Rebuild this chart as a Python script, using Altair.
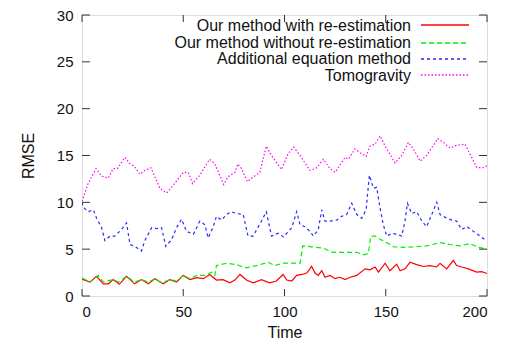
import altair as alt
import pandas as pd

series_names = ["Our method with re-estimation", "Our method without re-estimation",
                "Additional equation method", "Tomogravity"]
colors = ["#ff0000", "#00f000", "#2a2aff", "#ff00ff"]
dashes = [[], [5, 3], [3, 3], [1.5, 2]]

# Tomogravity (pink)
tomo_t = [0, 3, 6.9, 9.7, 13, 15.4, 17.5, 21.2, 23.7, 25.6, 28.6, 31, 34, 38.5, 41.8, 45, 50, 52.5,
          54.6, 58.2, 63, 65.6, 68, 70, 72, 75.5, 77, 78.8, 81.7, 84.5, 87.8, 91, 93.6, 98.5, 101.8,
          104.5, 107.7, 112.6, 116, 119.2, 122.5, 125, 129.9, 131.5, 134.8, 137.3, 140.3, 142.2,
          144.7, 147.2, 149.7, 154.6, 157.9, 161.2, 163.6, 167, 170.2, 175.7, 178.5, 181.8, 185,
          189.2, 192.4, 195, 198.2, 200]
tomo_v = [10.1, 12.0, 13.6, 12.8, 12.6, 13.6, 13.6, 14.8, 14.1, 13.9, 13.0, 13.4, 13.7, 11.5, 11.0,
          11.8, 13.2, 13.2, 12.0, 12.9, 14.6, 14.1, 12.9, 11.9, 12.7, 13.2, 14.1, 13.6, 12.2, 12.7,
          13.2, 16.0, 15.0, 13.5, 15.2, 15.9, 15.0, 13.4, 13.7, 14.6, 13.6, 13.2, 14.8, 14.6, 15.7,
          15.3, 14.9, 16.0, 16.2, 17.1, 16.0, 14.2, 15.0, 16.4, 15.7, 14.4, 15.0, 16.8, 16.4, 15.8,
          16.1, 16.2, 14.8, 13.7, 13.7, 13.9]

# Additional equation method (blue)
add_t = [0, 0.6, 3, 5.6, 7.2, 9.7, 11.3, 13.8, 16.3, 19.5, 22, 23.7, 26, 29.4, 31, 34.4, 36.8, 39.3,
         41.4, 44.2, 46.7, 49.2, 51.6, 55, 58.2, 60.7, 62.3, 64.8, 66.4, 68.9, 71.4, 73.8, 76.3,
         79.6, 82, 84.5, 88.6, 91, 93.6, 96.9, 99.5, 101.1, 103.6, 106, 107.7, 110.1, 112.6, 114.3,
         116.7, 118.4, 120, 122.5, 125.8, 128.2, 130.7, 133.2, 135.7, 138.1, 140.3, 141.9, 143.9,
         145.5, 147.2, 148.8, 150.5, 153, 155.4, 157.9, 159.5, 160.7, 162.8, 165.3, 167.8, 170.2,
         172.7, 175.2, 176.8, 180.1, 182.6, 185, 187.5, 190, 193.3, 196.6, 199, 200]
add_v = [10.0, 9.5, 9.0, 9.2, 8.3, 7.3, 5.9, 6.4, 6.4, 7.1, 7.8, 5.5, 5.3, 4.8, 5.9, 7.3, 7.2, 7.3,
         5.3, 6.0, 7.3, 8.2, 6.9, 6.6, 8.0, 7.6, 6.2, 7.4, 8.5, 8.1, 8.7, 9.0, 8.8, 8.7, 6.4, 6.4,
         8.0, 9.0, 6.4, 6.7, 6.3, 6.7, 7.3, 9.0, 7.6, 7.4, 6.9, 6.4, 7.1, 9.2, 8.0, 8.0, 8.1, 8.5,
         8.7, 9.9, 8.7, 8.3, 9.2, 12.9, 11.5, 11.6, 9.4, 7.6, 6.4, 6.7, 6.6, 6.4, 8.0, 9.9, 8.8,
         9.0, 8.0, 7.4, 8.7, 10.0, 8.7, 8.3, 8.1, 8.0, 7.1, 7.4, 6.9, 6.4, 6.0, 6.1]

# Our method without re-estimation (green)
wo_t = [0, 0.6, 4, 8, 10.5, 15.4, 18, 22, 26, 29.4, 32.7, 36, 39.3, 43.4, 46.7, 50, 53.3, 56.6,
        60.7, 64, 65.6, 66.4, 71.4, 76.3, 81.2, 86.2, 92, 95.2, 99.3, 104.3, 107.7, 109, 113.4,
        119.2, 124.1, 130.7, 135.7, 139, 141.4, 142.6, 144.7, 147.2, 150.5, 153.8, 158.7, 163.6,
        170.2, 176.8, 181.7, 186.7, 191.6, 195.7, 200]
wo_v = [1.9, 1.85, 1.5, 2.2, 1.5, 1.75, 1.5, 2.1, 1.5, 1.75, 1.5, 1.85, 1.4, 1.75, 1.6, 2.2, 1.85,
        2.2, 2.2, 2.55, 2.2, 3.25, 3.5, 3.35, 3.0, 3.25, 3.6, 3.25, 3.5, 3.5, 3.5, 5.35, 5.25, 5.1,
        4.65, 4.65, 4.65, 4.4, 4.55, 6.4, 6.4, 6.05, 5.7, 5.25, 5.2, 5.25, 5.35, 5.7, 5.5, 5.35,
        5.6, 5.2, 5.0]

# Our method with re-estimation (red)
with_t = [0, 0.6, 4, 7.2, 10.5, 13, 15.4, 18.4, 22, 26, 29.4, 32.7, 36, 40.1, 43.4, 46.7, 50, 53.3,
          56.6, 59.9, 63.1, 66.4, 69.7, 73, 75.5, 78, 81.2, 84.5, 88.6, 92.7, 96, 99.3, 101.1,
          103.6, 106, 108.5, 111, 113.4, 115.1, 116.7, 118.4, 120, 122.5, 125, 127.4, 129.9, 132.4,
          135.7, 139.8, 142.2, 144.7, 146.4, 149.7, 152.1, 155.4, 157.1, 159.5, 162, 165.3, 168.6,
          171.9, 175.2, 176.8, 180.1, 183.4, 185, 187.5, 190.8, 194.9, 197.4, 200]
with_v = [1.8, 1.75, 1.5, 2.1, 1.3, 1.3, 1.75, 1.25, 2.1, 1.3, 1.75, 1.3, 1.85, 1.3, 1.75, 1.5, 2.2,
          1.75, 1.95, 1.85, 2.3, 1.7, 1.75, 1.4, 1.7, 2.3, 1.7, 1.4, 1.75, 1.4, 1.6, 2.3, 1.7, 1.6,
          2.2, 2.3, 2.45, 3.15, 2.45, 2.2, 2.7, 2.0, 2.2, 1.85, 2.0, 1.75, 2.0, 2.2, 2.9, 2.8, 3.1,
          2.55, 3.5, 2.7, 3.4, 2.7, 2.9, 3.6, 3.35, 3.15, 3.25, 3.1, 3.5, 2.9, 3.8, 3.25, 3.1, 2.9,
          2.55, 2.6, 2.4]

x_ticks = [0, 50, 100, 150, 200]
y_ticks = [0, 5, 10, 15, 20, 25, 30]

rows = []
for name, ts, vs in [(series_names[0], with_t, with_v), (series_names[1], wo_t, wo_v),
                     (series_names[2], add_t, add_v), (series_names[3], tomo_t, tomo_v)]:
    for i, (t, v) in enumerate(zip(ts, vs)):
        rows.append({"series": name, "t": t, "v": v, "i": i})
df = pd.DataFrame(rows)

W, H = 405, 281
TOP = 7
FONT = "Liberation Sans"
TXT = "#111111"

xscale = alt.Scale(domain=[0, 200], nice=False, zero=False)
yscale = alt.Scale(domain=[0, 30], nice=False)

lines = alt.Chart(df).mark_line(strokeWidth=1.2, clip=True).encode(
    x=alt.X("t:Q", scale=xscale, title="Time",
            axis=alt.Axis(values=x_ticks, grid=False, domain=False, ticks=False, tickSize=0,
                          labelPadding=8, titlePadding=5, labelFontSize=15, titleFontSize=16,
                          labelFont=FONT, titleFont=FONT, labelColor=TXT, titleColor=TXT,
                          titleFontWeight="normal")),
    y=alt.Y("v:Q", scale=yscale, title="RMSE",
            axis=alt.Axis(values=y_ticks, grid=False, domain=False, ticks=False, tickSize=0,
                          labelPadding=9, titlePadding=20, labelFontSize=15, titleFontSize=16,
                          labelFont=FONT, titleFont=FONT, labelColor=TXT, titleColor=TXT,
                          titleFontWeight="normal")),
    color=alt.Color("series:N", scale=alt.Scale(domain=series_names, range=colors), legend=None),
    strokeDash=alt.StrokeDash("series:N", scale=alt.Scale(domain=series_names, range=dashes),
                              legend=None),
    order="i:Q",
    detail="series:N",
)

xt = pd.DataFrame({"x": x_ticks})
yt = pd.DataFrame({"y": y_ticks})
tick_color = "#333333"
bottom_ticks = alt.Chart(xt).mark_rule().encode(
    x=alt.X("x:Q", scale=xscale), y=alt.value(H), y2=alt.value(H - 7), color=alt.value(tick_color))
top_ticks = alt.Chart(xt).mark_rule().encode(
    x=alt.X("x:Q", scale=xscale), y=alt.value(0), y2=alt.value(7), color=alt.value(tick_color))
left_ticks = alt.Chart(yt).mark_rule().encode(
    y=alt.Y("y:Q", scale=yscale), x=alt.value(0), x2=alt.value(8), color=alt.value(tick_color))
right_ticks = alt.Chart(yt).mark_rule().encode(
    y=alt.Y("y:Q", scale=yscale), x=alt.value(W), x2=alt.value(W - 8), color=alt.value(tick_color))

legend_layers = []
row_y = [10.5, 27.5, 44, 60.5]
for name, col, dash, yy in zip(series_names, colors, dashes, row_y):
    ldf = pd.DataFrame({"name": [name]})
    legend_layers.append(
        alt.Chart(ldf).mark_text(align="right", baseline="middle", font=FONT, fontSize=16,
                                 color=TXT).encode(
            text="name:N", x=alt.value(329), y=alt.value(yy)))
    rule_kw = dict(stroke=col, color=col, strokeWidth=1.6, opacity=1)
    if dash:
        rule_kw["strokeDash"] = dash
    legend_layers.append(
        alt.Chart(ldf).mark_rule(**rule_kw).encode(
            x=alt.value(339), x2=alt.value(387), y=alt.value(round(yy))))

chart = alt.layer(lines, bottom_ticks, top_ticks, left_ticks, right_ticks, *legend_layers).properties(
    width=W, height=H,
    autosize=alt.AutoSizeParams(type="none"),
    padding={"left": 74, "top": TOP, "right": 10, "bottom": 45},
).configure_view(stroke="#222222", strokeWidth=1).configure(background="white")

chart.save("out.html", embed_options={"renderer": "svg", "actions": False})
